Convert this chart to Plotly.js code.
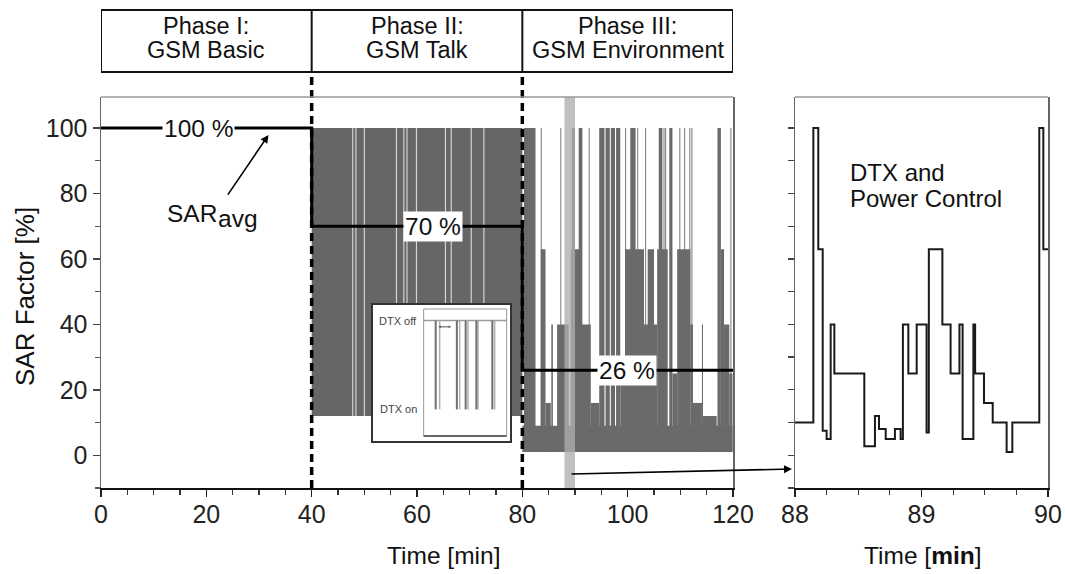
<!DOCTYPE html>
<html><head><meta charset="utf-8">
<script src="https://cdn.plot.ly/plotly-3.0.1.min.js"></script>
<style>html,body{margin:0;padding:0;background:#fff}#chart{width:1065px;height:574px}</style>
</head><body><div id="chart"></div>
<script>
// ---------- data ----------
const phaseLine1 = ['Phase I:', 'Phase II:', 'Phase III:'];
const phaseLine2 = ['GSM Basic', 'GSM Talk', 'GSM Environment'];
const phaseStart = [0, 40, 80];
const phaseEnd = [40, 80, 120];

const avgX = [0, 40, 40, 80, 80, 120];
const avgY = [100, 100, 70, 70, 26, 26];
const avgLabels = ['100 %', '70 %', '26 %'];
const avgLabelX = [18.5, 63.1, 99.8];
const avgLabelY = [100, 70, 26];

// Phase II: rapid DTX toggling between 12 % and 100 %
const p2Low = 12, p2High = 100;
const p2Gaps = [47.8, 48.4, 50.0, 56.1, 57.5, 58.1, 59.9, 65.4, 66.5, 70.3, 72.7];

// Phase III: blocks of rapid toggling (start, end, upper level), lower level ~1 %
const p3Low = 1;
const p3X0 = [80.0, 80.3, 83.5, 84.4, 85.5, 86.6, 89.2, 89.4, 90.7, 91.2, 93.0, 94.6, 95.8, 96.8, 97.8, 98.6, 99.5, 100.5, 103.1, 103.8, 105.6, 105.9, 107.9, 108.5, 109.4, 111.9, 112.4, 114.1, 114.3, 117.05, 117.7, 118.3, 119.3];
const p3X1 = [119.9, 82.5, 84.4, 85.4, 85.8, 88.8, 91.2, 90.0, 91.4, 93.0, 94.6, 95.6, 96.6, 97.6, 98.6, 99.5, 103.1, 101.5, 105.6, 105.0, 107.6, 106.6, 108.5, 109.4, 111.9, 112.4, 114.1, 114.3, 116.9, 117.7, 118.3, 119.3, 119.9];
const p3Hi = [9, 100, 63, 16, 40, 40, 63, 100, 100, 40, 16, 100, 100, 100, 100, 25, 63, 100, 40, 63, 63, 100, 100, 25, 63, 40, 16, 40, 12, 100, 63, 40, 25];
const p3SpikeX = [83.6, 87.3, 92.7, 99.6, 101.9, 103.4, 106.9, 107.2, 109.9, 110.8, 111.8, 112.2, 119.6];
const p3SpikeHi = 100;

// zoomed window 88 - 90 min
const zoomWindow = [88, 90];
const zoomX = [88.000, 88.145, 88.184, 88.219, 88.250, 88.282, 88.311, 88.548, 88.632, 88.664, 88.717, 88.790, 88.835, 88.853, 88.896, 88.962, 89.040, 89.058, 89.165, 89.230, 89.300, 89.325, 89.410, 89.424, 89.494, 89.563, 89.673, 89.718, 89.931, 89.963, 90.000];
const zoomY = [10, 100, 63, 7.5, 5, 40, 25, 2.75, 12, 8, 5, 8, 5, 40, 25, 40, 7, 63, 40, 25, 40, 5, 40, 25, 16, 10, 1, 10, 100, 63, 63];

// inset: DTX off / on signal
const insetSpan = [0, 10];
const insetOff = 1, insetOn = 0;
const insetDarkX = [1.45, 4.0, 5.06, 6.35, 8.27];
const insetLightX = [1.93, 4.34, 5.34, 6.55, 8.55];
const insetTickText = ['DTX off', 'DTX on'];

// ---------- helpers ----------
const W = 1065, H = 574;
const px = v => v / W;
const py = v => 1 - v / H;
const FONT = 'Liberation Sans, Arial, sans-serif';
const mid = (a, b) => (a + b) / 2;

function segs(xs, lo, hi) {
  const x = [], y = [];
  xs.forEach(v => { x.push(v, v, null); y.push(lo, hi, null); });
  return {x, y};
}

const traces = [];
traces.push({type: 'bar', x: [mid(phaseStart[1], phaseEnd[1])], width: [phaseEnd[1] - phaseStart[1]],
  base: [p2Low], y: [p2High - p2Low], marker: {color: '#666666', line: {width: 0}}, hoverinfo: 'skip'});
traces.push({type: 'bar', x: p2Gaps, width: p2Gaps.map(() => 0.22), base: p2Gaps.map(() => p2Low),
  y: p2Gaps.map(() => p2High - p2Low), marker: {color: '#d6d6d6', line: {width: 0}}, hoverinfo: 'skip'});
traces.push({type: 'bar', x: p3SpikeX, width: p3SpikeX.map(() => 0.22), base: p3SpikeX.map(() => p3Low),
  y: p3SpikeX.map(() => p3SpikeHi - p3Low), marker: {color: '#8a8a8a', line: {width: 0}}, hoverinfo: 'skip'});
traces.push({type: 'bar', x: p3X0.map((a, i) => mid(a, p3X1[i])), width: p3X0.map((a, i) => p3X1[i] - a),
  base: p3X0.map(() => p3Low), y: p3Hi.map(h => h - p3Low), marker: {color: '#6a6a6a', line: {width: 0}}, hoverinfo: 'skip'});
traces.push({type: 'bar', x: [mid(zoomWindow[0], zoomWindow[1])], width: [zoomWindow[1] - zoomWindow[0]],
  base: [-10], y: [119.5], marker: {color: 'rgba(174,174,174,0.78)', line: {width: 0}}, hoverinfo: 'skip'});
traces.push({type: 'scatter', mode: 'lines', x: avgX, y: avgY, line: {color: '#000', width: 3}, hoverinfo: 'skip'});
traces.push({type: 'scatter', mode: 'lines', x: zoomX, y: zoomY, xaxis: 'x2', yaxis: 'y2',
  line: {color: '#1a1a1a', width: 2, shape: 'hv'}, hoverinfo: 'skip'});
traces.push({type: 'scatter', mode: 'lines', x: insetSpan, y: [insetOff, insetOff], xaxis: 'x3', yaxis: 'y3',
  line: {color: '#9a9a9a', width: 1.5}, hoverinfo: 'skip'});
const sl = segs(insetLightX, insetOn, insetOff);
traces.push({type: 'scatter', mode: 'lines', x: sl.x, y: sl.y, xaxis: 'x3', yaxis: 'y3',
  line: {color: '#b0b0b0', width: 1.5}, hoverinfo: 'skip'});
const sd = segs(insetDarkX, insetOn, insetOff);
traces.push({type: 'scatter', mode: 'lines', x: sd.x, y: sd.y, xaxis: 'x3', yaxis: 'y3',
  line: {color: '#707070', width: 2}, hoverinfo: 'skip'});

const yDom = [py(488), py(97)];
const yRange = [-10, 109.5];
const tickFont = {family: FONT, size: 25, color: '#222'};

const shapes = [];
shapes.push({type: 'rect', xref: 'x', yref: 'paper', x0: phaseStart[0], x1: phaseEnd[2], y0: py(72), y1: py(10),
  line: {color: '#111', width: 2}});
phaseStart.slice(1).forEach(s => {
  shapes.push({type: 'line', xref: 'x', yref: 'paper', x0: s, x1: s, y0: py(72), y1: py(10), line: {color: '#111', width: 2}});
  shapes.push({type: 'line', xref: 'x', yref: 'paper', x0: s, x1: s, y0: py(488), y1: py(73),
    line: {color: '#000', width: 3.5, dash: '8px,5px'}, layer: 'above'});
});
shapes.push({type: 'line', xref: 'x', yref: 'paper', x0: 0, x1: 120, y0: yDom[1], y1: yDom[1], line: {color: '#999', width: 1.5}});
shapes.push({type: 'line', xref: 'x2', yref: 'paper', x0: 88, x1: 90, y0: yDom[1], y1: yDom[1], line: {color: '#999', width: 1.5}});
shapes.push({type: 'rect', xref: 'x3', yref: 'y3', x0: insetSpan[0], x1: insetSpan[1], y0: -0.30, y1: 1.131,
  line: {color: '#999', width: 1}});
shapes.push({type: 'line', xref: 'x3', yref: 'y3', x0: insetSpan[0], x1: insetSpan[1], y0: -0.30, y1: -0.30,
  line: {color: '#444', width: 1.5}});

const annotations = [];
function txt(o) { return Object.assign({showarrow: false, xanchor: 'center', yanchor: 'middle'}, o); }
phaseLine1.forEach((t, i) => {
  annotations.push(txt({xref: 'x', yref: 'paper', x: mid(phaseStart[i], phaseEnd[i]), y: py(26), text: t,
    font: {family: FONT, size: 23.5, color: '#111'}}));
  annotations.push(txt({xref: 'x', yref: 'paper', x: mid(phaseStart[i], phaseEnd[i]), y: py(50), text: phaseLine2[i],
    font: {family: FONT, size: 23.5, color: '#111'}}));
});
avgLabels.forEach((t, i) => {
  annotations.push(txt({xref: 'x', yref: 'y', x: avgLabelX[i], y: avgLabelY[i], text: t,
    bgcolor: '#fff', borderpad: 1, font: {family: FONT, size: 24.5, color: '#111'}}));
});
annotations.push(txt({xref: 'x', yref: 'y', x: 17.3, y: 73.8, text: 'SAR', font: {family: FONT, size: 24.5, color: '#111'}}));
annotations.push(txt({xref: 'x', yref: 'y', x: 21.9, y: 72.3, xanchor: 'left', text: 'avg', font: {family: FONT, size: 24.5, color: '#111'}}));
annotations.push({xref: 'x', yref: 'y', x: 31.8, y: 97.9, axref: 'x', ayref: 'y', ax: 23.9, ay: 79.2, text: '',
  showarrow: true, arrowhead: 2, arrowsize: 1, arrowwidth: 1.6, arrowcolor: '#000'});
annotations.push({xref: 'paper', yref: 'paper', x: px(792), y: py(469), ax: -222, ay: 5, text: '',
  showarrow: true, arrowhead: 2, arrowsize: 1, arrowwidth: 1.6, arrowcolor: '#000'});
annotations.push(txt({xref: 'x2', yref: 'paper', x: 88.42, y: py(172), xanchor: 'left', text: 'DTX and',
  font: {family: FONT, size: 24, color: '#111'}}));
annotations.push(txt({xref: 'x2', yref: 'paper', x: 88.42, y: py(199), xanchor: 'left', text: 'Power Control',
  font: {family: FONT, size: 24, color: '#111'}}));
annotations.push(txt({xref: 'paper', yref: 'paper', x: px(25), y: py(297), text: 'SAR Factor [%]', textangle: -90,
  font: {family: FONT, size: 26, color: '#111'}}));
annotations.push(txt({xref: 'paper', yref: 'paper', x: px(443), y: py(555), text: 'Time [min]',
  font: {family: FONT, size: 24.5, color: '#111'}}));
annotations.push(txt({xref: 'paper', yref: 'paper', x: px(923), y: py(555), text: 'Time [<b>min</b>]',
  font: {family: FONT, size: 24.5, color: '#111'}}));
[insetOff, insetOn].forEach((lv, i) => {
  annotations.push(txt({xref: 'x3', yref: 'y3', x: -0.6, y: lv, xanchor: 'right', text: insetTickText[i],
    font: {family: FONT, size: 11, color: '#444'}}));
});
annotations.push({xref: 'x3', yref: 'y3', x: 3.3, y: 0.93, axref: 'x3', ayref: 'y3', ax: 1.6, ay: 0.93, text: '',
  showarrow: true, arrowside: 'end+start', arrowhead: 2, arrowsize: 0.5, arrowwidth: 1, arrowcolor: '#555'});

const layout = {
  width: W, height: H, margin: {l: 0, r: 0, t: 0, b: 0},
  paper_bgcolor: '#fff', plot_bgcolor: '#fff', showlegend: false, barmode: 'overlay',
  font: {family: FONT, color: '#111'},
  xaxis: {domain: [px(101), px(733)], range: [0, 120], anchor: 'y', tickmode: 'linear', tick0: 0, dtick: 20,
    ticks: 'outside', ticklen: 7, tickwidth: 1.5, tickcolor: '#222', tickfont: tickFont, ticklabelstandoff: -4,
    minor: {dtick: 5, ticks: 'outside', ticklen: 5, tickwidth: 1.2, tickcolor: '#333'},
    showline: true, linecolor: '#111', linewidth: 2, showgrid: false, zeroline: false},
  yaxis: {domain: yDom, range: yRange, anchor: 'x', tickmode: 'linear', tick0: 0, dtick: 20,
    ticks: 'outside', ticklen: 7, tickwidth: 1.5, tickcolor: '#444', tickfont: tickFont,
    minor: {dtick: 10, ticks: 'outside', ticklen: 5, tickwidth: 1.2, tickcolor: '#555'},
    showline: true, linecolor: '#666', linewidth: 1.5, mirror: true, showgrid: false, zeroline: false},
  xaxis2: {domain: [px(795), px(1048)], range: zoomWindow, anchor: 'y2', tickmode: 'linear', tick0: 88, dtick: 1,
    ticks: 'outside', ticklen: 7, tickwidth: 1.5, tickcolor: '#222', tickfont: tickFont, ticklabelstandoff: -4,
    minor: {dtick: 0.25, ticks: 'outside', ticklen: 5, tickwidth: 1.2, tickcolor: '#333'},
    showline: true, linecolor: '#111', linewidth: 2, showgrid: false, zeroline: false},
  yaxis2: {domain: yDom, range: yRange, anchor: 'x2', tickmode: 'linear', tick0: 0, dtick: 10,
    ticks: 'outside', ticklen: 6, tickwidth: 1.3, tickcolor: '#444', showticklabels: false,
    showline: true, linecolor: '#666', linewidth: 1.5, mirror: true, showgrid: false, zeroline: false},
  xaxis3: {domain: [px(373), px(510)], range: [-6.1, 10.4], anchor: 'y3', showticklabels: false, ticks: '',
    showline: true, mirror: true, linecolor: '#333', linewidth: 2, showgrid: false, zeroline: false},
  yaxis3: {domain: [py(441), py(305)], range: [-0.356, 1.176], anchor: 'x3', showticklabels: false, ticks: '',
    showline: true, mirror: true, linecolor: '#333', linewidth: 2, showgrid: false, zeroline: false},
  shapes: shapes, annotations: annotations
};

Plotly.newPlot('chart', traces, layout, {staticPlot: true, displayModeBar: false});
</script>
</body></html>
